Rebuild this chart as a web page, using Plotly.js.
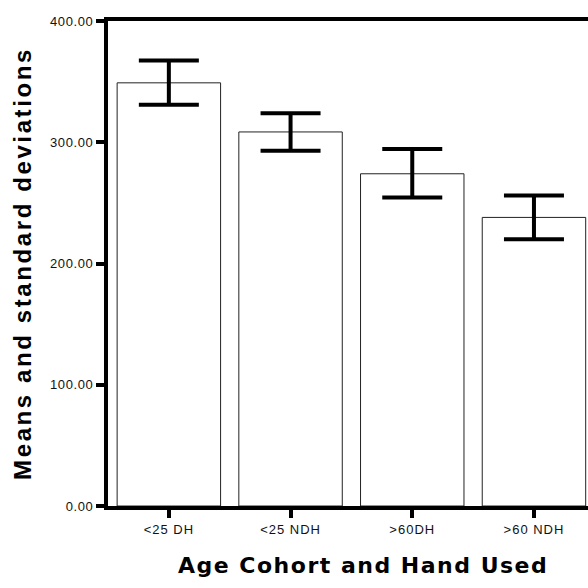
<!DOCTYPE html>
<html>
<head>
<meta charset="utf-8">
<script src="https://cdn.plot.ly/plotly-3.0.1.min.js"></script>
<style>
html,body{margin:0;padding:0;background:#fff;}
#chart{width:588px;height:588px;}
#chart .ytitle{letter-spacing:2.6px;}
#chart .annotation-text{letter-spacing:1.5px;}
#chart .xtick text{letter-spacing:1px;}
#chart .ytick text{letter-spacing:0.6px;}
</style>
</head>
<body>
<div id="chart"></div>
<script>
const categories = ["<25 DH", "<25 NDH", ">60DH", ">60 NDH"];
const means = [349, 308.5, 274, 238];
const errPlus = [18.5, 15.5, 20.5, 18];
const errMinus = [18, 15.5, 19.5, 18];
const yTicks = [0, 100, 200, 300, 400];

const trace = {
  type: "bar",
  x: categories,
  y: means,
  width: 0.85,
  marker: {color: "#ffffff", line: {color: "#222222", width: 1}},
  error_y: {
    type: "data", symmetric: false,
    array: errPlus, arrayminus: errMinus,
    color: "#000000", thickness: 4, width: 30
  },
  hoverinfo: "none"
};

const layout = {
  width: 588, height: 588,
  margin: {l: 108, r: 0, t: 21, b: 82},
  paper_bgcolor: "#ffffff", plot_bgcolor: "#ffffff",
  showlegend: false,
  font: {family: "Liberation Sans, Arial, sans-serif", color: "#111"},
  xaxis: {
    type: "category",
    range: [-0.5, 3.444],
    showline: true, linecolor: "#000", linewidth: 4, mirror: true,
    ticks: "outside", ticklen: 8, tickwidth: 4, tickcolor: "#000",
    tickfont: {size: 13, color: "#111"},
    showgrid: false, zeroline: false
  },
  yaxis: {
    range: [0, 400],
    tickvals: yTicks,
    tickformat: ".2f",
    showline: true, linecolor: "#000", linewidth: 4, mirror: false,
    ticks: "outside", ticklen: 8, tickwidth: 4, tickcolor: "#000",
    tickfont: {size: 13, color: "#111"},
    showgrid: false, zeroline: false,
    title: {text: "Means and standard deviations", font: {size: 24, family: "Liberation Sans, Arial, sans-serif", weight: "bold", color: "#000"}, standoff: 16}
  },
  annotations: [{
    text: "Age Cohort and Hand Used",
    xref: "paper", yref: "paper",
    x: (363 - 108) / 480, y: -0.123,
    xanchor: "center", yanchor: "middle",
    showarrow: false,
    font: {size: 22, family: "DejaVu Sans, sans-serif", weight: "bold", color: "#000"}
  }]
};

Plotly.newPlot("chart", [trace], layout, {displayModeBar: false, staticPlot: true});
</script>
</body>
</html>
